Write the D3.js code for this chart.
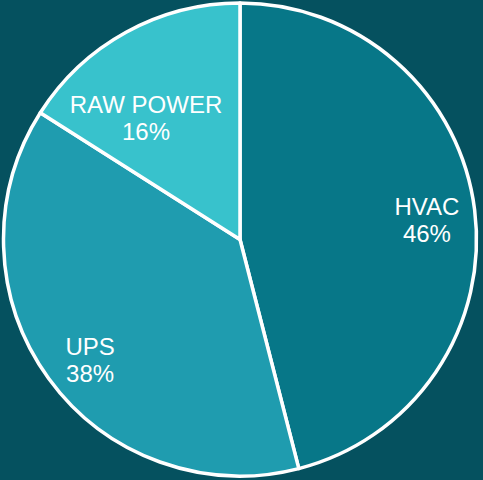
<!DOCTYPE html>
<html>
<head>
<meta charset="utf-8">
<script src="https://cdn.jsdelivr.net/npm/d3@7"></script>
<style>
  html, body { margin: 0; padding: 0; background: #05515f; }
  svg { display: block; }
</style>
</head>
<body>
<svg id="chart" width="483" height="480"></svg>
<script>
const categories = ["HVAC", "UPS", "RAW POWER"];
const values = [46, 38, 16];
const percentLabels = ["46%", "38%", "16%"];

const W = 483, H = 480;
const cx = 240, cy = 239.5, R = 236.5;
const colors = ["#077788", "#1f9caf", "#38c2cc"];
// label placement: fraction of radius and angular shift (degrees) from slice mid-angle
const labelLayout = [
  { r: 0.795, da: 1.1 },
  { r: 0.813, da: -2.75 },
  { r: 0.650, da: -8.9 }
];

const svg = d3.select("#chart");
svg.append("rect").attr("width", W).attr("height", H).attr("fill", "#05515f");

const data = categories.map((c, i) => ({ cat: c, value: values[i], label: percentLabels[i], i }));
const pie = d3.pie().value(d => d.value).sort(null);
const arc = d3.arc().innerRadius(0).outerRadius(R);
const arcs = pie(data);

const g = svg.append("g").attr("transform", `translate(${cx},${cy})`);
g.selectAll("path").data(arcs).join("path")
  .attr("d", arc)
  .attr("fill", d => colors[d.data.i])
  .attr("stroke", "#ffffff")
  .attr("stroke-width", 3.5)
  .attr("stroke-linejoin", "round");

const fontSize = 24;
arcs.forEach(a => {
  const L = labelLayout[a.data.i];
  const mid = (a.startAngle + a.endAngle) / 2 + L.da * Math.PI / 180;
  const rr = L.r * R;
  const x = Math.sin(mid) * rr;
  const y = -Math.cos(mid) * rr;
  const t = g.append("text")
    .attr("text-anchor", "middle")
    .attr("font-family", "Liberation Sans, Arial, sans-serif")
    .attr("font-size", fontSize)
    .attr("fill", "#ffffff");
  t.append("tspan").attr("x", x).attr("y", y - 4.5).text(a.data.cat);
  t.append("tspan").attr("x", x).attr("y", y + 22).text(a.data.label);
});
</script>
</body>
</html>
